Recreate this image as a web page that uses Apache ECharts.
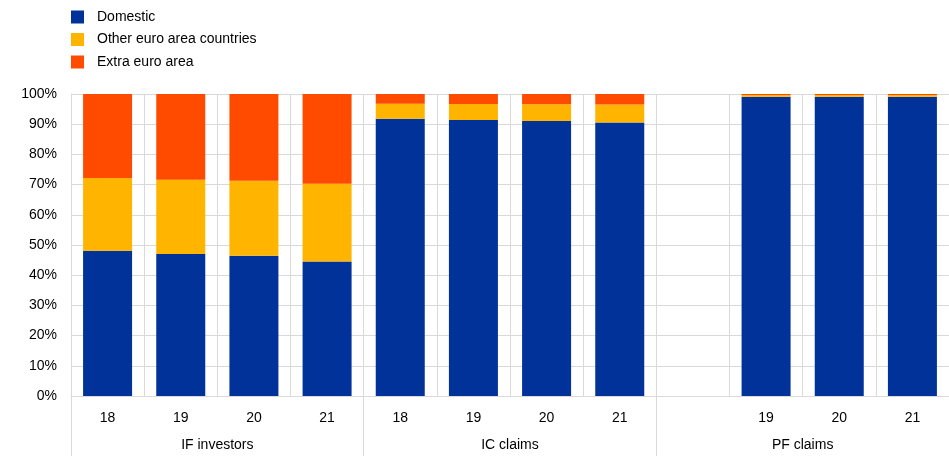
<!DOCTYPE html>
<html>
<head>
<meta charset="utf-8">
<script src="https://cdn.jsdelivr.net/npm/echarts@6/dist/echarts.min.js"></script>
<style>
html,body{margin:0;padding:0;background:#fff;}
#chart{width:949px;height:456px;}
</style>
</head>
<body>
<div id="chart"></div>
<script>
var groups = ['IF investors', 'IC claims', 'PF claims'];
var years = ['18', '19', '20', '21', '18', '19', '20', '21', '', '19', '20', '21'];
var domestic = [48.1, 47.0, 46.4, 44.5, 91.8, 91.4, 91.1, 90.6, null, 99.1, 99.1, 99.1];
var otherEuro = [24.1, 24.6, 24.9, 25.8, 5.0, 5.3, 5.5, 5.9, null, 0.6, 0.6, 0.6];
var extraEuro = [27.8, 28.4, 28.7, 29.7, 3.2, 3.3, 3.4, 3.5, null, 0.3, 0.3, 0.3];
var seriesNames = ['Domestic', 'Other euro area countries', 'Extra euro area'];
var yTicks = [0, 10, 20, 30, 40, 50, 60, 70, 80, 90, 100];

var FONT = 'Liberation Sans, Arial, sans-serif';
var GRID = '#d9d9d9';
var cats = years.map(function (y, i) { return 'c' + i; });

var chart = echarts.init(document.getElementById('chart'));
chart.setOption({
  animation: false,
  color: ['#003299', '#ffb400', '#ff4b00'],
  textStyle: { fontFamily: FONT },
  legend: {
    orient: 'vertical',
    left: 71,
    top: 10,
    padding: 0,
    icon: 'rect',
    itemWidth: 13,
    itemHeight: 13,
    itemGap: 8.5,
    textStyle: { fontSize: 14, color: '#000', fontFamily: FONT, padding: [0, 0, 0, 8] },
    data: seriesNames
  },
  grid: { left: 71, right: -2, top: 94, bottom: 60, containLabel: false },
  xAxis: [
    {
      type: 'category',
      data: cats,
      axisLine: { show: true, lineStyle: { color: GRID } },
      axisTick: { show: false },
      splitLine: { show: true, lineStyle: { color: GRID } },
      axisLabel: {
        interval: 0,
        margin: 15,
        fontSize: 14,
        color: '#000',
        fontFamily: FONT,
        formatter: function (v, i) { return years[i]; }
      }
    },
    {
      type: 'category',
      position: 'bottom',
      data: groups,
      axisLine: { show: false },
      axisTick: { show: true, length: 60, interval: 0, lineStyle: { color: GRID } },
      splitLine: { show: false },
      axisLabel: { interval: 0, margin: 42, fontSize: 14, color: '#000', fontFamily: FONT }
    }
  ],
  yAxis: {
    type: 'value',
    min: 0,
    max: 100,
    interval: 10,
    axisLine: { show: true, lineStyle: { color: GRID } },
    axisTick: { show: false },
    splitLine: { show: true, lineStyle: { color: GRID } },
    axisLabel: {
      margin: 14,
      fontSize: 14,
      color: '#000',
      fontFamily: FONT,
      customValues: yTicks,
      formatter: '{value}%'
    }
  },
  series: [
    { name: seriesNames[0], type: 'bar', stack: 'total', barWidth: 49, data: domestic },
    { name: seriesNames[1], type: 'bar', stack: 'total', barWidth: 49, data: otherEuro },
    { name: seriesNames[2], type: 'bar', stack: 'total', barWidth: 49, data: extraEuro }
  ]
});
</script>
</body>
</html>
